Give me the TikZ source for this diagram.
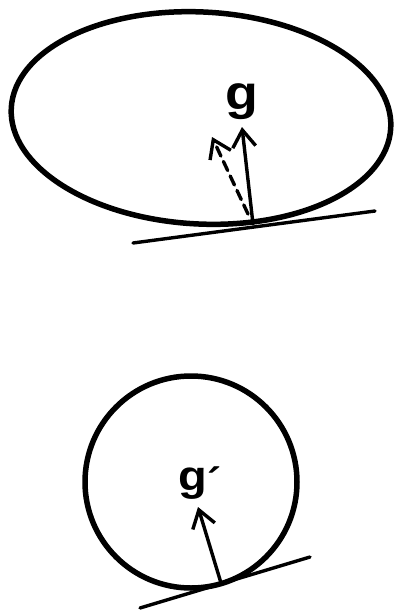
\documentclass[tikz,border=0pt]{standalone}
\usepackage{fontspec}
\setsansfont{Liberation Sans}
\usetikzlibrary{arrows.meta}
\begin{document}
\begin{tikzpicture}[x=1pt,y=-1pt,line width=3.4pt,line cap=round,every node/.style={font=\sffamily\bfseries,inner sep=0pt},
  vec/.style={-{Straight Barb[length=17pt,width=23pt]}}]
\useasboundingbox (0,0) rectangle (397,613);
\coordinate (C) at (201,118);
\coordinate (K) at (253,224);
\coordinate (Kd) at (248,214);
\coordinate (A) at (242,127);
\coordinate (Ad) at (212,137);
\coordinate (L1) at (133,243);
\coordinate (L2) at (375,211);
\coordinate (c) at (191,482);
\coordinate (k) at (221,583);
\coordinate (a) at (198,507);
\coordinate (l1) at (140,608);
\coordinate (l2) at (310,557);
\draw[line width=5.5pt,rotate around={-3:(C)}] (C) ellipse[x radius=190,y radius=106];
\draw (L1) -- (L2);
\draw[vec] (K) -- (A);
\draw[vec,dash pattern=on 10pt off 6pt] (Kd) -- (Ad);
\node[font=\sffamily\bfseries\fontsize{48}{52}\selectfont] (g) at (242,102) {\scalebox{1.12}[1]{g}};
\draw[line width=5.5pt] (c) circle[radius=106];
\draw (l1) -- (l2);
\draw[vec] (k) -- (a);
\node[font=\sffamily\bfseries\fontsize{42}{46}\selectfont] (gp) at (200,483) {\scalebox{1.12}[1]{g}\raisebox{-.18em}{´}};
\end{tikzpicture}
\end{document}
